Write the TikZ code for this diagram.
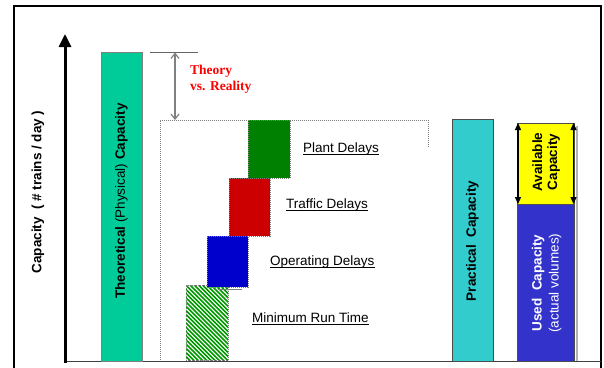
\documentclass[tikz,border=0pt]{standalone}
\usepackage{fontspec}
\setmainfont{Liberation Sans}
\newfontfamily\serifbold{Liberation Serif}
\usetikzlibrary{arrows.meta}
\definecolor{theo}{HTML}{00CC99}
\definecolor{prac}{HTML}{33CCCC}
\definecolor{used}{HTML}{3333CC}
\definecolor{avail}{HTML}{FFFF00}
\definecolor{plant}{HTML}{008000}
\definecolor{traffic}{HTML}{CC0000}
\definecolor{oper}{HTML}{0000CC}
\definecolor{hatch}{HTML}{009900}

\begin{document}
\begin{tikzpicture}[x=1pt,y=-1pt,
  blk/.style={rectangle, inner sep=0pt, outer sep=0pt, anchor=north west},
  solidbar/.style={blk, draw=#1, line width=1pt},
  dotbox/.style={blk, draw=gray, line width=0.8pt, dash pattern=on 1pt off 1pt},
  vlabel/.style={rotate=90, inner sep=0pt, align=center, font=\fontsize{13.5}{16}\selectfont},
  dlabel/.style={inner sep=0pt, anchor=base west, font=\fontsize{13.5}{16}\selectfont},
  dtip/.tip={Triangle[width=6pt,length=7pt]},
  vtip/.tip={Straight Barb[length=5pt,width=8pt]},
]
\useasboundingbox (0,0) rectangle (604,367);
\clip (0,0) rectangle (604,367);
\fill[white] (0,0) rectangle (604,367);

% outer frame (runs off the bottom edge)
\draw[line width=2.5pt] (14,380) -- (14,6) -- (601,6) -- (601,380);

% axes
\coordinate (origin) at (65,361.5);
\coordinate (ybase) at (65,363);
\coordinate (ytop) at (65,34);
\coordinate (xend) at (601,361.5);
\draw[line width=1.5pt, black!75] (origin) -- (xend);
\draw[line width=3pt, -{Triangle[width=12pt,length=13pt]}] (ybase) -- (ytop);
\node[vlabel, font=\bfseries\fontsize{13.5}{16}\selectfont] (ylab) at (38,192)
  {Capacity\ \ ( \# trains / day )};

% theoretical capacity bar
\node[solidbar=black!50, fill=theo, minimum width=41pt, minimum height=309pt] (theobar) at (101,52) {};
\node[vlabel] (theolab) at (121.5,201)
  {\bfseries Theoretical \mdseries(Physical) \bfseries Capacity};

% theory vs. reality gap
\coordinate (tickL) at (150,52.5);
\coordinate (tickR) at (198,52.5);
\coordinate (thtop) at (175,52.5);
\coordinate (thbot) at (175,120);
\draw[black!60, line width=0.9pt] (tickL) -- (tickR);
\draw[gray, line width=1.2pt, vtip-vtip] (thtop) -- (thbot);
\node[anchor=north west, inner sep=0pt, text=red, align=left,
      font=\serifbold\bfseries\fontsize{13.5}{16}\selectfont] (theory) at (190,64.5)
  {Theory\\vs. Reality};

% practical capacity envelope
\draw[gray, line width=0.8pt, dash pattern=on 1pt off 1pt]
  (428,147) -- (428,120) -- (160,120) -- (160,361);

% minimum run time: green diagonal hatching
\begin{scope}
  \clip (186,285) rectangle (228,360);
  \foreach \i in {-80,-75.8,...,46}
    \draw[hatch, line width=1.6pt] (186+\i,285) -- ++(76,76);
\end{scope}
\node[dotbox, minimum width=42pt, minimum height=75pt] (minrun) at (186,285) {};

% delay blocks
\node[dotbox, fill=oper, minimum width=41pt, minimum height=51pt] (oper) at (207,236) {};
\node[dotbox, fill=traffic, minimum width=41pt, minimum height=58pt] (traffic) at (229,178) {};
\node[dotbox, fill=plant, minimum width=42pt, minimum height=58pt] (plant) at (248,120) {};
\coordinate (stubL) at (218,289);
\coordinate (stubR) at (242,289);
\draw[gray, line width=0.8pt] (stubL) -- (stubR);

% delay labels (underlined)
\node[dlabel] (plantlab) at (303,152) {Plant Delays};
\node[dlabel] (traflab) at (286,208) {Traffic Delays};
\node[dlabel] (operlab) at (270,265) {Operating Delays};
\node[dlabel] (minlab) at (252,322) {Minimum Run Time};
\foreach \n in {plantlab,traflab,operlab,minlab}
  \draw[line width=0.9pt] ([yshift=-2pt]\n.base west) -- ([yshift=-2pt]\n.base east);

% practical capacity bar
\node[solidbar=black!70, fill=prac, minimum width=41pt, minimum height=242pt] (pracbar) at (452,119) {};
\node[vlabel, font=\bfseries\fontsize{13.5}{16}\selectfont] (praclab) at (472.5,241)
  {Practical\ \ Capacity};

% used / available capacity
\draw[gray!60, line width=2pt] (577,126) -- (577,361);
\node[solidbar=black!70, fill=used, minimum width=57pt, minimum height=157pt] (usedbar) at (517,204) {};
\node[solidbar=black!70, fill=avail, minimum width=57pt, minimum height=81pt] (availbar) at (517,123) {};
\node[vlabel, text=white, font=\fontsize{13.5}{17}\selectfont] (usedlab) at (546.5,283)
  {{\bfseries Used\ \ Capacity}\\(actual volumes)};
\node[vlabel, font=\bfseries\fontsize{13.5}{15}\selectfont] (availlab) at (546,162)
  {Available\\Capacity};
\draw[line width=1.3pt, dtip-dtip] ([xshift=1pt]availbar.north west) -- ([xshift=1pt]availbar.south west);
\draw[line width=1.3pt, dtip-dtip] ([xshift=-0.5pt]availbar.north east) -- ([xshift=-0.5pt]availbar.south east);
\end{tikzpicture}
\end{document}
